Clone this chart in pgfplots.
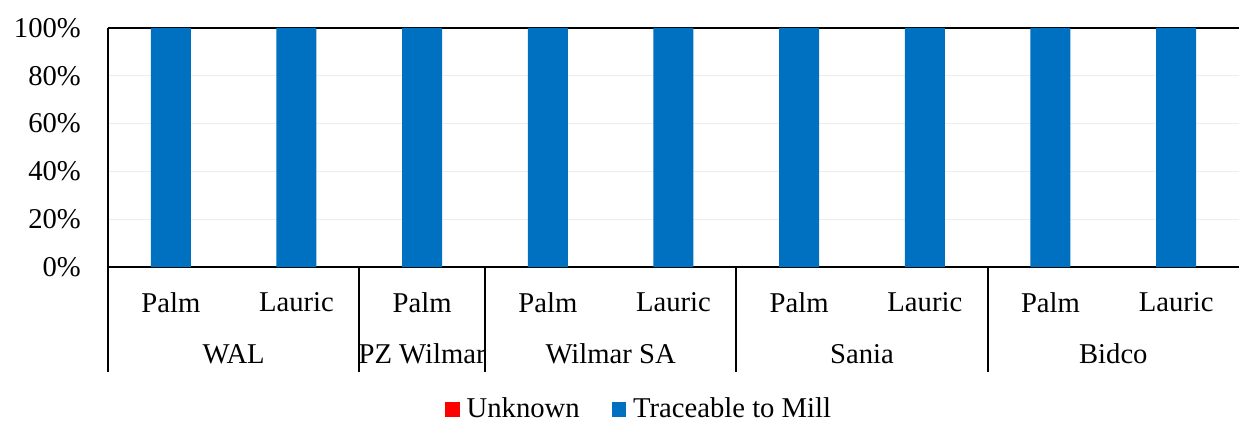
\documentclass[border=0pt]{standalone}
\usepackage{pgfplots}
\pgfplotsset{compat=1.18}
\usepackage{fontspec}
\setmainfont{Liberation Serif}

\definecolor{unknownred}{HTML}{FF0000}
\definecolor{millblue}{HTML}{0070C0}
\definecolor{gridgray}{HTML}{EDEDED}

\begin{document}
\begin{tikzpicture}
\fontsize{21.5}{25}\selectfont
% fixed page size (1239x421 px at 0.75pt per px)
\path[use as bounding box] (-81pt,-115.5pt) rectangle (848.25pt,200.25pt);
\begin{axis}[
    at={(0,0)}, anchor=south west,
    scale only axis,
    width=848.25pt, height=179.25pt,
    clip=false,
    ybar stacked,
    bar width=30pt,
    xmin=-0.5, xmax=8.5,
    ymin=0, ymax=100,
    xtick={0,...,8},
    xticklabels={Palm,Lauric,Palm,Palm,Lauric,Palm,Lauric,Palm,Lauric},
    ytick={0,20,...,100},
    yticklabel={\pgfmathprintnumber{\tick}\%},
    /pgf/number format/assume math mode=true,
    font=\fontsize{21.5}{25}\selectfont,
    major tick length=0pt,
    ymajorgrids,
    grid style={gridgray, line width=1pt},
    axis lines*=left,
    axis line style={black, line width=1.2pt, -},
    xticklabel shift=12pt,
    yticklabel shift=13pt,
    legend style={at={(axis description cs:0.47,-0.595)}, anchor=center,
        draw=none, legend columns=2, font=\fontsize{21.5}{25}\selectfont,
        /tikz/every odd column/.append style={column sep=3pt},
        /tikz/every even column/.append style={column sep=22pt}},
    legend image code/.code={\fill[#1] (0pt,-5.5pt) rectangle (11pt,5.5pt);},
]
\addplot[fill=unknownred, draw=none] coordinates {
    (0,0) (1,0) (2,0) (3,0) (4,0) (5,0) (6,0) (7,0) (8,0)};
\addplot[fill=millblue, draw=none] coordinates {
    (0,100) (1,100) (2,100) (3,100) (4,100) (5,100) (6,100) (7,100) (8,100)};
\legend{Unknown, Traceable to Mill}

% top frame line
\draw[black, line width=1.2pt] (rel axis cs:0,1) -- (rel axis cs:1,1);

% group separators
\draw[black, line width=1.4pt] (axis cs:-0.5,0) -- ([yshift=-79pt]axis cs:-0.5,0);
\draw[black, line width=1.4pt] (axis cs:1.5,0) -- ([yshift=-79pt]axis cs:1.5,0);
\draw[black, line width=1.4pt] (axis cs:2.5,0) -- ([yshift=-79pt]axis cs:2.5,0);
\draw[black, line width=1.4pt] (axis cs:4.5,0) -- ([yshift=-79pt]axis cs:4.5,0);
\draw[black, line width=1.4pt] (axis cs:6.5,0) -- ([yshift=-79pt]axis cs:6.5,0);

% group labels
\node[anchor=base] at ([yshift=-72pt]axis cs:0.5,0) {WAL};
\node[anchor=base] at ([yshift=-72pt]axis cs:2,0) {PZ Wilmar};
\node[anchor=base] at ([yshift=-72pt]axis cs:3.5,0) {Wilmar SA};
\node[anchor=base] at ([yshift=-72pt]axis cs:5.5,0) {Sania};
\node[anchor=base] at ([yshift=-72pt]axis cs:7.5,0) {Bidco};
\end{axis}
\end{tikzpicture}
\end{document}
